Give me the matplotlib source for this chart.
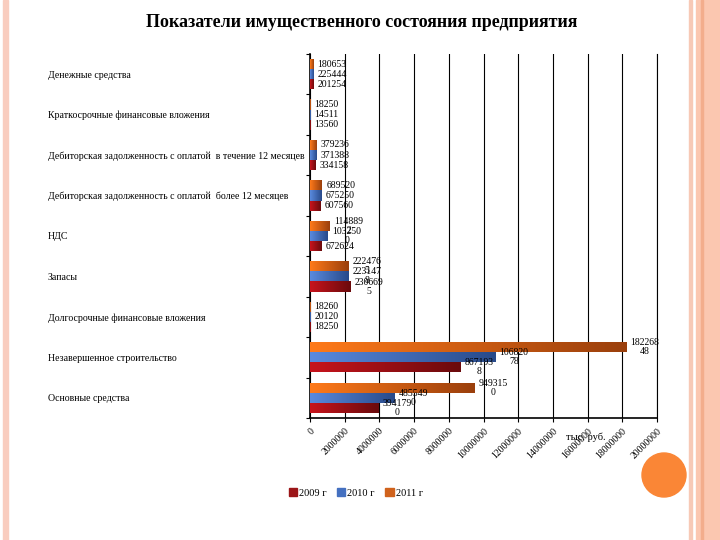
import numpy as np
import matplotlib.pyplot as plt
from matplotlib.colors import LinearSegmentedColormap
from matplotlib.patches import Rectangle, Ellipse

plt.rcParams['font.family'] = ['Liberation Serif', 'DejaVu Serif']

categories = ['Денежные средства',
              'Краткосрочные финансовые вложения',
              'Дебиторская задолженность с оплатой  в течение 12 месяцев',
              'Дебиторская задолженность с оплатой  более 12 месяцев',
              'НДС',
              'Запасы',
              'Долгосрочные финансовые вложения',
              'Незавершенное строительство',
              'Основные средства']
v2009 = [201254, 13560, 334158, 607560, 672624, 2306695, 18250, 8671938, 3941790]
v2010 = [225444, 14511, 371388, 675250, 1032500, 2231478, 20120, 10682078, 4855490]
v2011 = [180653, 18250, 379236, 689520, 1148892, 2224765, 18260, 18226848, 9493150]
years = ['2009 г', '2010 г', '2011 г']
xticks = np.arange(0, 20000001, 2000000)

# (legend colour, gradient light, gradient dark)
colors = {'2009 г': ('#9b1518', '#c8141c', '#6a0a0c'),
          '2010 г': ('#4470c0', '#5a8ade', '#284a8a'),
          '2011 г': ('#d0621c', '#ff7a1a', '#9a3f0c')}

fig = plt.figure(figsize=(7.2, 5.4), dpi=100)
ax = fig.add_axes([0.4306, 0.226, 0.4819, 0.674])

y = np.arange(len(categories))
offsets = {'2011 г': -0.25, '2010 г': 0.0, '2009 г': 0.25}
series = {'2009 г': v2009, '2010 г': v2010, '2011 г': v2011}

grad = np.linspace(0, 1, 256).reshape(1, -1)
for yr in years:
    legc, light, dark = colors[yr]
    bars = ax.barh(y + offsets[yr], series[yr], height=0.25, color=legc,
                   label=yr, zorder=3)
    cmap = LinearSegmentedColormap.from_list(yr, [light, dark])
    for p, val in zip(bars, series[yr]):
        x0, w = p.get_x(), p.get_width()
        y0, h = p.get_y(), p.get_height()
        im = ax.imshow(grad, extent=[x0, x0 + w, y0 + h, y0], aspect='auto',
                       cmap=cmap, zorder=3.5)
        im.set_clip_path(p)
        s = str(val)
        if len(s) > 6:
            s = s[:6] + '\n' + s[6:]
        ax.annotate(s, (x0 + w, y0 + h / 2), xytext=(3, 0),
                    textcoords='offset points', ha='left', va='center',
                    multialignment='center', fontsize=7, zorder=5,
                    linespacing=1.0)

ax.set_xlim(0, 20000000)
ax.set_ylim(len(categories) - 0.5, -0.5)
ax.set_xticks(xticks)
ax.set_xticklabels([str(t) for t in xticks], rotation=45, ha='right',
                   rotation_mode='anchor', fontsize=7)
ax.tick_params(axis='x', length=3, width=0.8, pad=3)
ax.set_yticks(np.arange(len(categories) + 1) - 0.5)
ax.set_yticklabels([])
ax.tick_params(axis='y', which='major', length=3, width=0.8)
ax.set_yticks(y, minor=True)
ax.set_yticklabels(categories, minor=True, fontsize=7.1, ha='left')
ax.tick_params(axis='y', which='minor', length=0, pad=189)
ax.grid(axis='x', color='black', linewidth=0.8, zorder=0)
ax.spines['top'].set_visible(False)
ax.spines['right'].set_linewidth(0.8)
ax.spines['left'].set_linewidth(1.2)
ax.spines['bottom'].set_linewidth(1.2)

fig.text(0.503, 0.959, 'Показатели имущественного состояния предприятия',
         ha='center', va='center', fontsize=13, fontweight='bold')
fig.text(0.814, 0.191, 'тыс. руб.', ha='center', va='center', fontsize=7.5)

handles = [Rectangle((0, 0), 1, 1, color=colors[yr][0]) for yr in years]
fig.legend(handles, years, loc='center', bbox_to_anchor=(0.494, 0.087),
           ncol=3, frameon=False, fontsize=7.5, handlelength=0.8,
           handleheight=0.8, handletextpad=0.2, columnspacing=1.0)

# slide decoration
fig.patches.append(Rectangle((3 / 720, 0), 5 / 720, 1, transform=fig.transFigure,
                             color='#f9cdbf', zorder=0))
fig.patches.append(Rectangle((689 / 720, 0), 3 / 720, 1, transform=fig.transFigure,
                             color='#f7c9b6', zorder=0))
fig.patches.append(Rectangle((696 / 720, 0), 24 / 720, 1, transform=fig.transFigure,
                             color='#fbc7b0', zorder=0))
fig.patches.append(Rectangle((701 / 720, 0), 2 / 720, 1, transform=fig.transFigure,
                             color='#f3ad8c', zorder=0))
fig.patches.append(Ellipse((664 / 720, 1 - 475 / 540), 44 / 720, 44 / 540,
                           transform=fig.transFigure, color='#fa8636', zorder=0))

fig.savefig('out.png', dpi=100)
